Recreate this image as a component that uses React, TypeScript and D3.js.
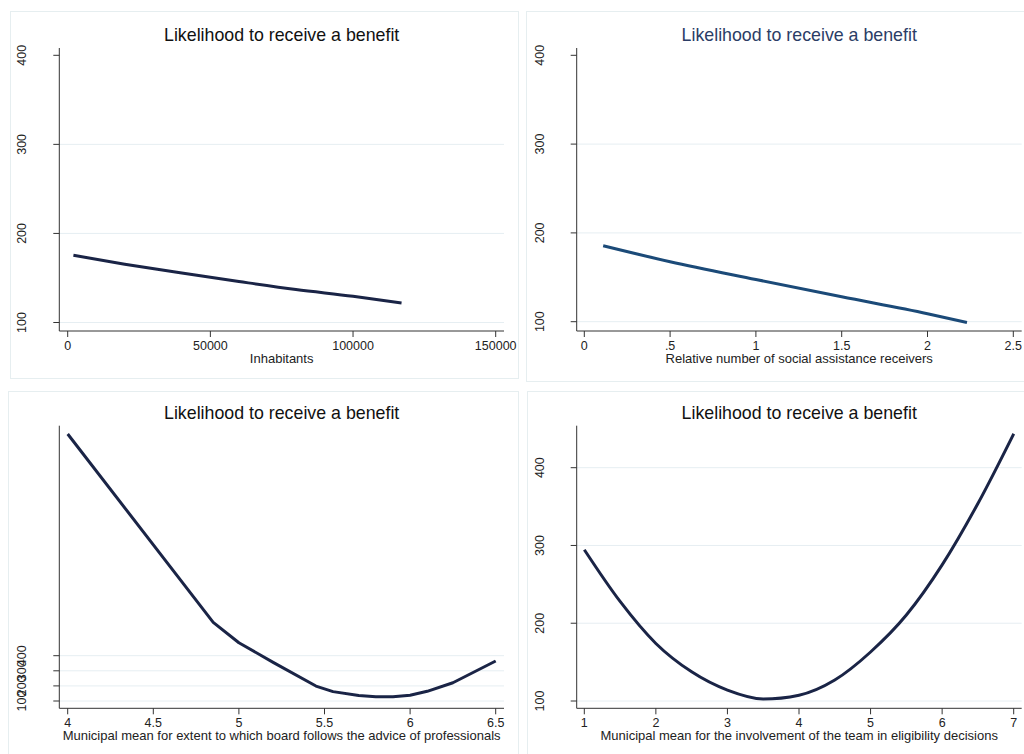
import React, { useEffect, useRef } from 'react';
import * as d3 from 'd3';

const TITLE = "Likelihood to receive a benefit";

// Panel 1: Inhabitants
const inhabitantsX = [2000, 20000, 40000, 60000, 80000, 100000, 117000];
const inhabitantsY = [175.5, 165.5, 155.5, 146, 137, 129.5, 122];
const inhabitantsTicks = [0, 50000, 100000, 150000];

// Panel 2: relative number of social assistance receivers
const receiversX = [0.11, 0.5, 1, 1.5, 2, 2.23];
const receiversY = [185.5, 167.5, 147.5, 128, 109, 99];
const receiversTicks = [0, 0.5, 1, 1.5, 2, 2.5];

// Panel 3: board follows advice of professionals
const adviceX = [4, 4.85, 5, 5.2, 5.45, 5.55, 5.7, 5.8, 5.9, 6, 6.1, 6.25, 6.5];
const adviceY = [1868, 621, 486, 356, 199, 162, 136, 128, 128, 138, 164, 221, 365];
const adviceTicks = [4, 4.5, 5, 5.5, 6, 6.5];

// Panel 4: involvement of the team in eligibility decisions
const teamX = [1, 1.5, 2, 2.5, 3, 3.5, 4, 4.5, 5, 5.5, 6, 6.5, 7];
const teamY = [294.5, 228, 174, 137.5, 114, 102.6, 107.5, 127, 163, 210.5, 275, 354, 443.6];
const teamTicks = [1, 2, 3, 4, 5, 6, 7];

const yTicks = [100, 200, 300, 400];

const fmtX = (v: number) => {
  if (v > 0 && v < 1) return d3.format(".1f")(v).replace(/^0/, "");
  return String(v);
};

type Panel = {
  frame: [number, number, number, number];
  xs: number[];
  ys: number[];
  xDomain: [number, number];
  xRange: [number, number];
  yRange: [number, number];
  xTicks: number[];
  grid: number[];
  axisX: number;
  axisTop: number;
  axisBottom: number;
  axisRight: number;
  xLabel: string;
  lineColor: string;
  titleColor: string;
  smooth: boolean;
};

const panels: Panel[] = [
  {
    frame: [10, 11, 508, 367], xs: inhabitantsX, ys: inhabitantsY,
    xDomain: [0, 150000], xRange: [67.7, 495.7], yRange: [322.5, 55.3],
    xTicks: inhabitantsTicks, grid: [100, 200, 300],
    axisX: 59.3, axisTop: 48, axisBottom: 331, axisRight: 504,
    xLabel: "Inhabitants", lineColor: "#1a2446", titleColor: "#111", smooth: true,
  },
  {
    frame: [526, 11, 498, 370], xs: receiversX, ys: receiversY,
    xDomain: [0, 2.5], xRange: [584.3, 1013.3], yRange: [321.7, 55.3],
    xTicks: receiversTicks, grid: [100, 200, 300],
    axisX: 576.7, axisTop: 48, axisBottom: 331, axisRight: 1021.7,
    xLabel: "Relative number of social assistance receivers", lineColor: "#1b4a78", titleColor: "#2b3d66", smooth: true,
  },
  {
    frame: [8, 391, 510, 363], xs: adviceX, ys: adviceY,
    xDomain: [4, 6.5], xRange: [67.7, 495.7], yRange: [701, 655.7],
    xTicks: adviceTicks, grid: [100, 200, 300, 400],
    axisX: 59.3, axisTop: 425.7, axisBottom: 708.3, axisRight: 504,
    xLabel: "Municipal mean for extent to which board follows the advice of professionals", lineColor: "#1a2446", titleColor: "#111", smooth: false,
  },
  {
    frame: [527, 391, 497, 363], xs: teamX, ys: teamY,
    xDomain: [1, 7], xRange: [584.3, 1013.7], yRange: [701, 467.7],
    xTicks: teamTicks, grid: [100, 200, 300, 400],
    axisX: 576.7, axisTop: 425.7, axisBottom: 708.3, axisRight: 1021.7,
    xLabel: "Municipal mean for the involvement of the team in eligibility decisions", lineColor: "#1a2446", titleColor: "#111", smooth: true,
  },
];

const App: React.FC = () => {
  const svgRef = useRef<SVGSVGElement | null>(null);

  useEffect(() => {
    const svg = d3.select(svgRef.current);
    svg.selectAll("*").remove();
    svg.attr("font-family", "'Liberation Sans', Arial, Helvetica, sans-serif");

    panels.forEach(p => {
      const g = svg.append("g");
      const [fx, fy, fw, fh] = p.frame;
      g.append("rect")
        .attr("x", fx + 0.5).attr("y", fy + 0.5)
        .attr("width", fw).attr("height", fh)
        .attr("fill", "white").attr("stroke", "#e6eef0");

      const x = d3.scaleLinear().domain(p.xDomain).range(p.xRange);
      const y = d3.scaleLinear().domain([100, 400]).range(p.yRange);

      // gridlines
      g.selectAll(".grid").data(p.grid).join("line")
        .attr("x1", p.axisX).attr("x2", p.axisRight)
        .attr("y1", d => y(d)).attr("y2", d => y(d))
        .attr("stroke", "#e6eef2").attr("stroke-width", 1);

      // title
      g.append("text")
        .attr("x", (p.axisX + p.axisRight) / 2)
        .attr("y", p.axisTop - 7)
        .attr("text-anchor", "middle")
        .attr("font-size", 17.8)
        .attr("fill", p.titleColor)
        .text(TITLE);

      // y axis
      g.append("line")
        .attr("x1", p.axisX).attr("x2", p.axisX)
        .attr("y1", p.axisTop).attr("y2", p.axisBottom)
        .attr("stroke", "#333").attr("stroke-width", 1);
      const yt = g.selectAll(".yt").data(yTicks).join("g")
        .attr("transform", d => `translate(${p.axisX},${y(d)})`);
      yt.append("line").attr("x1", -6).attr("x2", 0).attr("stroke", "#333");
      yt.append("text")
        .attr("transform", "translate(-37,0) rotate(-90)")
        .attr("text-anchor", "middle")
        .attr("dominant-baseline", "central")
        .attr("font-size", 12.5)
        .attr("fill", "#222")
        .text(d => String(d));

      // x axis
      g.append("line")
        .attr("x1", p.axisX).attr("x2", p.axisRight)
        .attr("y1", p.axisBottom).attr("y2", p.axisBottom)
        .attr("stroke", "#333").attr("stroke-width", 1);
      const xt = g.selectAll(".xt").data(p.xTicks).join("g")
        .attr("transform", d => `translate(${x(d)},${p.axisBottom})`);
      xt.append("line").attr("y1", 0).attr("y2", 6).attr("stroke", "#333");
      xt.append("text")
        .attr("y", 19)
        .attr("text-anchor", "middle")
        .attr("font-size", 12.5)
        .attr("fill", "#222")
        .text(d => fmtX(d));

      g.append("text")
        .attr("x", (p.axisX + p.axisRight) / 2)
        .attr("y", p.axisBottom + 32)
        .attr("text-anchor", "middle")
        .attr("font-size", 13)
        .attr("fill", "#222")
        .text(p.xLabel);

      // curve
      const pts = p.xs.map((v, i) => [v, p.ys[i]] as [number, number]);
      const line = d3.line<[number, number]>()
        .x(d => x(d[0])).y(d => y(d[1]))
        .curve(p.smooth ? d3.curveMonotoneX : d3.curveLinear);
      g.append("path")
        .datum(pts)
        .attr("d", line)
        .attr("fill", "none")
        .attr("stroke", p.lineColor)
        .attr("stroke-width", 3)
        .attr("stroke-linejoin", "round");
    });
  }, []);

  return (
    <svg ref={svgRef} width={1024} height={754}
      style={{ position: "absolute", left: 0, top: 0, background: "white" }} />
  );
};

export default App;
